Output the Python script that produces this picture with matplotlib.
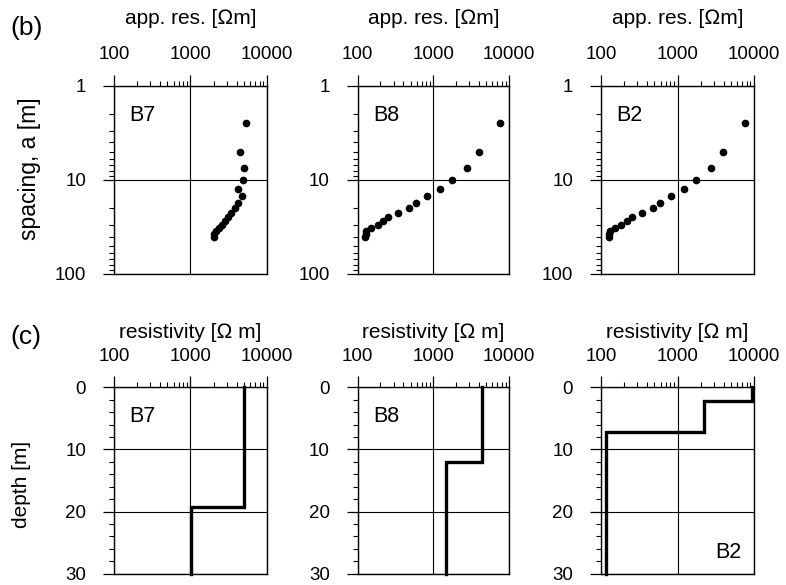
import matplotlib
matplotlib.use("Agg")
import matplotlib.pyplot as plt
from matplotlib.ticker import FixedLocator, LogLocator, MultipleLocator, NullFormatter

plt.rcParams['font.family'] = ['Liberation Sans', 'DejaVu Sans']

# ---------------- data ----------------
spacing = [2.5, 5, 7.5, 10, 12.5, 15, 17.5, 20, 22.5, 25, 27.5, 30, 32.5, 35, 37.5, 40]
appres_B7 = [5300, 4500, 4950, 4800, 4150, 4650, 4200, 3800, 3400, 3100, 2800, 2550, 2350, 2150, 2050, 2000]
appres_B8 = [7700, 4050, 2750, 1760, 1220, 815, 595, 480, 345, 253, 218, 184, 151, 130, 127, 124]
appres_B2 = [7600, 3900, 2720, 1745, 1215, 823, 596, 483, 344, 254, 219, 184, 152, 131, 128, 126]

# layered models: resistivity per layer, depth of layer boundaries
rho_B7 = [5000, 1010]
bnd_B7 = [19.2]
rho_B8 = [4400, 1450]
bnd_B8 = [12.1]
rho_B2 = [9400, 2240, 115]
bnd_B2 = [2.2, 7.15]

names = ["B7", "B8", "B2"]
x_ticks = [100, 1000, 10000]
x_ticklabels = ["100", "1000", "10000"]
sp_ticks = [1, 10, 100]
sp_ticklabels = ["1", "10", "100"]
depth_ticks = [0, 10, 20, 30]
depth_ticklabels = ["0", "10", "20", "30"]

top_title = "app. res. [\u2126m]"
bot_title = "resistivity [\u2126 m]"

# ---------------- figure ----------------
W, H = 786, 585
fig = plt.figure(figsize=(W / 100, H / 100), dpi=100)

lefts = [114, 357.7, 601]
widths = [153, 151.3, 153]
top_row = (85.7, 274)
bot_row = (387.3, 573.7)


def make_ax(left, width, rows):
    t, b = rows
    return fig.add_axes([left / W, 1 - b / H, width / W, (b - t) / H])


def style_xaxis(ax, title, labelpad):
    ax.set_xscale('log')
    ax.set_xlim(100, 10000)
    ax.xaxis.tick_top()
    ax.xaxis.set_label_position('top')
    ax.xaxis.set_major_locator(FixedLocator(x_ticks))
    ax.set_xticklabels(x_ticklabels)
    ax.xaxis.set_minor_locator(LogLocator(base=10, subs=range(2, 10)))
    ax.xaxis.set_minor_formatter(NullFormatter())
    ax.tick_params(axis='x', which='major', direction='out', length=8, width=0.9,
                   labelsize=13.5, pad=8, top=True, bottom=False)
    ax.tick_params(axis='x', which='minor', direction='out', length=3.5, width=0.8,
                   top=True, bottom=False)
    ax.set_xlabel(title, fontsize=15, labelpad=labelpad)


def common(ax, label, loc='top'):
    for s in ax.spines.values():
        s.set_linewidth(1.0)
    ax.tick_params(axis='y', which='major', direction='out', length=8, width=0.9,
                   labelsize=13.5, pad=12)
    ax.tick_params(axis='y', which='minor', direction='out', length=3.5, width=0.8)
    ax.grid(True, which='major', color='black', linewidth=0.8)
    if loc == 'top':
        ax.text(0.1, 0.9, label, transform=ax.transAxes, fontsize=15.5, va='top', ha='left')
    else:
        ax.text(0.92, 0.06, label, transform=ax.transAxes, fontsize=15.5, va='bottom', ha='right')


# top row: apparent resistivity curves
appres = [appres_B7, appres_B8, appres_B2]
for i in range(3):
    ax = make_ax(lefts[i], widths[i], top_row)
    ax.plot(appres[i], spacing, 'o', color='black', markersize=4.5, zorder=3)
    ax.set_yscale('log')
    ax.set_ylim(100, 1)
    ax.yaxis.set_major_locator(FixedLocator(sp_ticks))
    ax.set_yticklabels(sp_ticklabels)
    ax.yaxis.set_minor_locator(LogLocator(base=10, subs=range(2, 10)))
    ax.yaxis.set_minor_formatter(NullFormatter())
    style_xaxis(ax, top_title, 16)
    common(ax, names[i])
    if i == 0:
        ax.set_ylabel("spacing, a [m]", fontsize=16.5)
        ax.yaxis.set_label_coords((41 - 114) / 153, 0.56)

# bottom row: layered models
rhos = [rho_B7, rho_B8, rho_B2]
bnds = [bnd_B7, bnd_B8, bnd_B2]
for i in range(3):
    ax = make_ax(lefts[i], widths[i], bot_row)
    edges = [0] + list(bnds[i]) + [30]
    xs, ys = [], []
    for k, r in enumerate(rhos[i]):
        xs += [r, r]
        ys += [edges[k], edges[k + 1]]
    ax.plot(xs, ys, color='black', linewidth=2.4, solid_joinstyle='miter', zorder=3, clip_on=False)
    ax.set_ylim(30, 0)
    ax.yaxis.set_major_locator(FixedLocator(depth_ticks))
    ax.set_yticklabels(depth_ticklabels)
    ax.yaxis.set_minor_locator(MultipleLocator(2))
    style_xaxis(ax, bot_title, 7)
    common(ax, names[i], loc='top' if i < 2 else 'bottom')
    if i == 0:
        ax.set_ylabel("depth [m]", fontsize=15)
        ax.yaxis.set_label_coords((31 - 114) / 153, 0.48)

fig.text(10 / W, 1 - 28 / H, "(b)", fontsize=19, va='center', ha='left')
fig.text(10 / W, 1 - 337 / H, "(c)", fontsize=19, va='center', ha='left')

fig.savefig("out.png", dpi=100)
